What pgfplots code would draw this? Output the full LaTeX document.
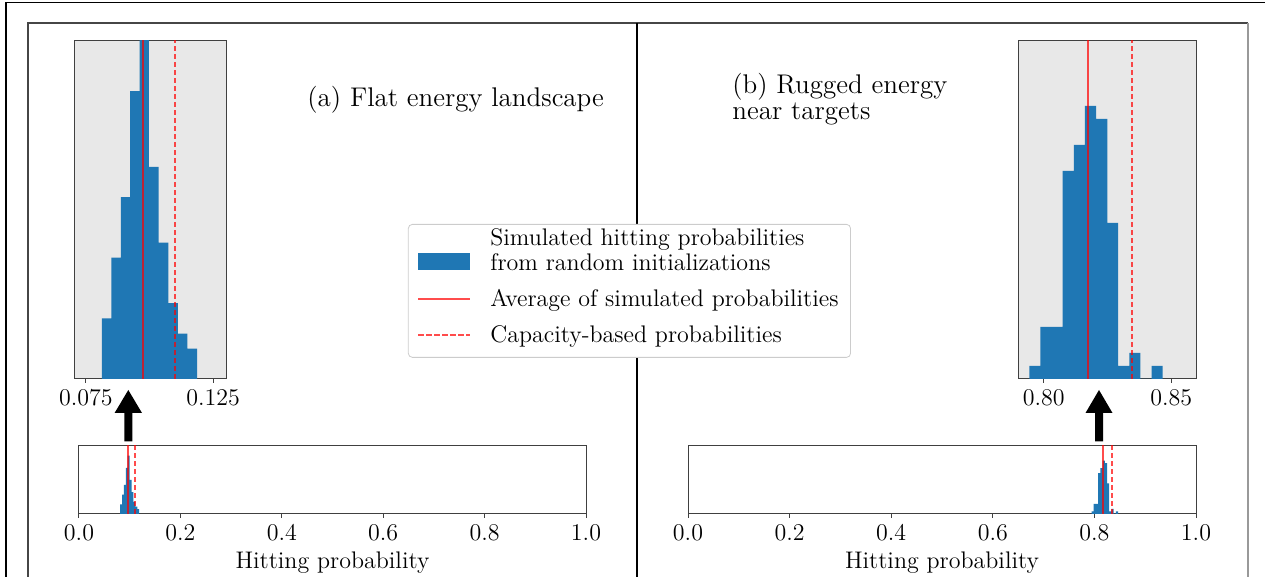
\documentclass[border=0pt]{standalone}
\usepackage{pgfplots}
\usepackage{pgfplotstable}
\pgfplotsset{compat=1.18}
\definecolor{mplblue}{RGB}{31,119,180}
\definecolor{framegray}{RGB}{70,70,70}

% histogram bins (left edge, count); last row closes the last bin
\pgfplotstableread{
x y
0.0813 4
0.0850 8
0.0887 12
0.0924 19
0.0961 24
0.0998 14
0.1036 9
0.1074 5
0.1112 3
0.1149 2
0.1187 0
}\histflat

\pgfplotstableread{
x y
0.7944 1
0.7987 4
0.8031 4
0.8074 16
0.8118 18
0.8161 21
0.8205 20
0.8249 12
0.8292 1
0.8336 2
0.8379 0
0.8423 1
0.8466 0
}\histrugged

\pgfplotsset{
  histax/.style={
    scale only axis,
    anchor=south west,
    axis line style={black!75, line width=0.5pt},
    ymin=0, ytick=\empty,
    xtick pos=bottom,
    tick align=outside,
    major tick length=1.8pt,
    tick style={black!75, line width=0.5pt},
    ticklabel style={font=\fontsize{12}{14}\selectfont},
  },
  meanline/.style={red, opacity=0.7, line width=1pt},
  capline/.style={red, opacity=0.7, line width=1pt, dash pattern=on 2.7pt off 1.3pt},
  lineleg/.style={legend image code/.code={
      \draw[##1, sharp corners] (1pt,0pt) -- (27pt,0pt);
      \path[draw=none, fill=none] (0pt,0pt) -- (35pt,0pt);}},
  lastleg/.style={legend image code/.code={
      \draw[##1, sharp corners] (1pt,0pt) -- (27pt,0pt);
      \path[draw=none, fill=none] (0pt,0pt) -- (35pt,0pt) (0pt,-11pt);}},
  patchleg/.style={legend image code/.code={
      \fill[mplblue, sharp corners] (1pt,-9.75pt) rectangle (27pt,-1.25pt);
      \path[draw=none, fill=none] (0pt,0pt) -- (35pt,0pt);}},
}

\begin{document}
\begin{tikzpicture}
\begin{scope}[x=0.5pt, y=0.5pt]
\path[use as bounding box] (0,0) rectangle (1265,577);
% frames
\draw[black, line width=0.9pt] (6,0) -- (6,574.5) -- (1265,574.5);
\draw[framegray, line width=0.8pt] (28,0) -- (28,554) -- (1248,554);
\draw[black!40, line width=0.8pt] (1248,554) -- (1248,0);
\draw[black, line width=0.6pt] (637,554) -- (637,0);
\end{scope}

% (a) inset
\begin{axis}[histax, at={(37pt,99pt)}, width=76pt, height=169pt,
    xmin=0.0703, xmax=0.1301, ymax=22.3,
    axis background/.style={fill=gray!18},
    xtick={0.075,0.125},
    xticklabel style={/pgf/number format/.cd, fixed, fixed zerofill, precision=3},
    legend style={at={(2.197,0.4586)}, anchor=north west,
      draw=black!20, rounded corners=2pt, fill=white,
      font=\fontsize{12}{12.5}\selectfont, row sep=4pt,
      inner ysep=0pt, inner xsep=4pt,
      cells={anchor=west, align=left}},
    legend cell align=left]
\addplot[ybar interval, fill=mplblue, draw=none, patchleg] table {\histflat};
\addplot[meanline, lineleg] coordinates {(0.0974,0) (0.0974,30)};
\addplot[capline, lastleg] coordinates {(0.1099,0) (0.1099,30)};
\legend{{Simulated hitting probabilities\\from random initializations},
  Average of simulated probabilities, Capacity-based probabilities}
\end{axis}

% (b) inset
\begin{axis}[histax, at={(509pt,99pt)}, width=89pt, height=169pt,
    xmin=0.7899, xmax=0.8597, ymax=26,
    axis background/.style={fill=gray!18},
    xtick={0.80,0.85},
    xticklabel style={/pgf/number format/.cd, fixed, fixed zerofill, precision=2}]
\addplot[ybar interval, fill=mplblue, draw=none] table {\histrugged};
\addplot[meanline] coordinates {(0.8173,0) (0.8173,30)};
\addplot[capline] coordinates {(0.8346,0) (0.8346,30)};
\end{axis}

% full range, (a)
\begin{axis}[histax, at={(39.5pt,31.5pt)}, width=253.5pt, height=34pt,
    xmin=0, xmax=1, ymax=28,
    xtick={0,0.2,0.4,0.6,0.8,1},
    xticklabel style={/pgf/number format/.cd, fixed, fixed zerofill, precision=1},
    xlabel={Hitting probability},
    xlabel style={font=\fontsize{12}{14}\selectfont, yshift=1pt}]
\addplot[ybar interval, fill=mplblue, draw=none] table {\histflat};
\addplot[meanline] coordinates {(0.0974,0) (0.0974,30)};
\addplot[capline] coordinates {(0.1099,0) (0.1099,30)};
\end{axis}

% full range, (b)
\begin{axis}[histax, at={(344pt,31.5pt)}, width=254pt, height=34pt,
    xmin=0, xmax=1, ymax=26.7,
    xtick={0,0.2,0.4,0.6,0.8,1},
    xticklabel style={/pgf/number format/.cd, fixed, fixed zerofill, precision=1},
    xlabel={Hitting probability},
    xlabel style={font=\fontsize{12}{14}\selectfont, yshift=1pt}]
\addplot[ybar interval, fill=mplblue, draw=none] table {\histrugged};
\addplot[meanline] coordinates {(0.8173,0) (0.8173,30)};
\addplot[capline] coordinates {(0.8346,0) (0.8346,30)};
\end{axis}

\begin{scope}[x=0.5pt, y=0.5pt]
% arrows from the full range plots up to the insets
\fill[black] (128.3,187) -- (142,164) -- (132.3,164) -- (132.3,135.5)
  -- (124.3,135.5) -- (124.3,164) -- (114.6,164) -- cycle;
\fill[black] (1099,187) -- (1112.5,164) -- (1103,164) -- (1103,135.5)
  -- (1095,135.5) -- (1095,164) -- (1085.5,164) -- cycle;
% panel titles
\node[anchor=base west, inner sep=0pt, font=\fontsize{13.5}{16}\selectfont]
  at (307,470) {(a) Flat energy landscape};
\node[anchor=base west, inner sep=0pt, font=\fontsize{13.5}{16}\selectfont]
  at (732,483) {(b) Rugged energy};
\node[anchor=base west, inner sep=0pt, font=\fontsize{13.5}{16}\selectfont]
  at (732,457) {near targets};
\end{scope}
\end{tikzpicture}
\end{document}
